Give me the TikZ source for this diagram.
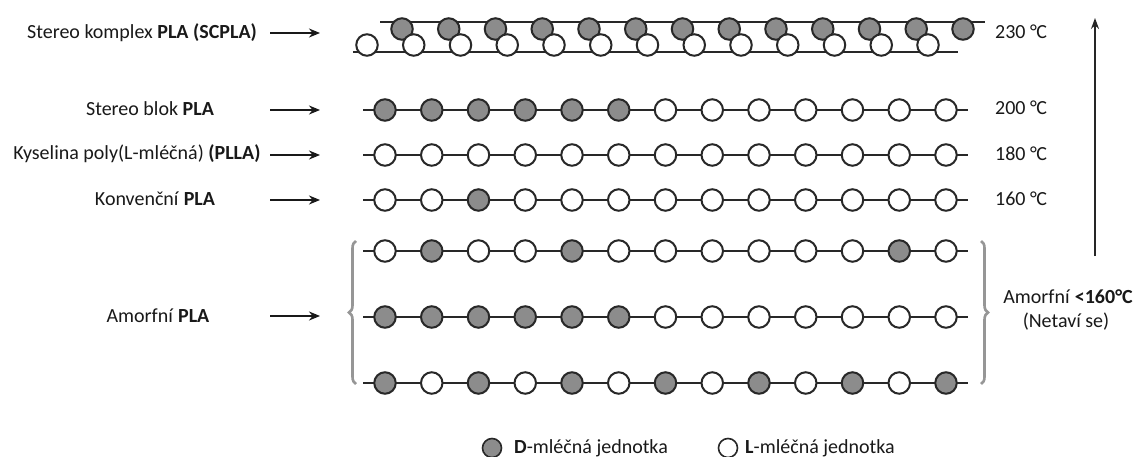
\documentclass[tikz,border=0pt]{standalone}
\usepackage{fontspec}
\setmainfont{Carlito}
\usetikzlibrary{decorations.pathreplacing,arrows.meta}
\definecolor{dgrey}{RGB}{140,140,140}
\definecolor{outl}{RGB}{40,40,40}
\definecolor{brgrey}{RGB}{150,150,150}
\definecolor{txt}{RGB}{25,25,25}
\tikzset{
  unitD/.style={circle, draw=outl, line width=2pt, fill=dgrey, minimum size=21.5pt, inner sep=0pt},
  unitL/.style={circle, draw=outl, line width=2pt, fill=white, minimum size=21.5pt, inner sep=0pt},
  chainline/.style={draw=outl, line width=2.8pt},
  lbl/.style={font=\fontsize{20}{23}\selectfont, text=txt, inner sep=0pt},
  pointer/.style={-{Stealth[length=11pt,width=9pt]}, line width=2pt, draw=black!90},
  uparrow/.style={-{Stealth[length=11pt,width=8pt]}, line width=1.6pt, draw=black!85},
  bracestyle/.style={decorate, decoration={brace, amplitude=7pt}, draw=brgrey, line width=2.6pt},
}
\newcommand{\chainrow}[3]{%
  \coordinate (#1s) at (363,#2);
  \coordinate (#1e) at (968,#2);
  \draw[chainline] (#1s) -- (#1e);
  \foreach \t [count=\i from 0] in {#3} {
    \node[unit\t] (#1u\i) at ({385+46.75*\i},#2) {};
  }
}
\begin{document}
\begin{tikzpicture}[x=1pt,y=-1pt]
\useasboundingbox[fill=white] (0,0) rectangle (1134,457);

% --- stereo complex
\coordinate (sct1) at (380,22); \coordinate (sct2) at (985,22);
\coordinate (scb1) at (353,52); \coordinate (scb2) at (958,52);
\draw[chainline] (sct1) -- (sct2);
\draw[chainline] (scb1) -- (scb2);
\foreach \i in {0,...,12} {
  \node[unitD] (scd\i) at ({402+46.75*\i},29) {};
}
\foreach \i in {0,...,12} {
  \node[unitL] (scl\i) at ({367+46.75*\i},45) {};
}

% --- rows
\chainrow{sb}{110}{D,D,D,D,D,D,L,L,L,L,L,L,L}
\chainrow{pl}{155}{L,L,L,L,L,L,L,L,L,L,L,L,L}
\chainrow{kv}{200}{L,L,D,L,L,L,L,L,L,L,L,L,L}
\chainrow{aa}{251}{L,D,L,L,D,L,L,L,L,L,L,D,L}
\chainrow{ab}{317}{D,D,D,D,D,D,L,L,L,L,L,L,L}
\chainrow{ac}{383}{D,L,D,L,D,L,D,L,D,L,D,L,D}

% --- left labels
\node[lbl] (l1) at (142,33) {Stereo komplex \textbf{PLA (SCPLA)}};
\node[lbl] (l2) at (150,109) {Stereo blok \textbf{PLA}};
\node[lbl] (l3) at (137,154) {Kyselina poly(L-mléčná) \textbf{(PLLA)}};
\node[lbl] (l4) at (155,199) {Konvenční \textbf{PLA}};
\node[lbl] (l5) at (158,316) {Amorfní \textbf{PLA}};

\foreach \n/\y in {1/33,2/110,3/155,4/200,5/316} {
  \coordinate (a\n s) at (270,\y);
  \coordinate (a\n e) at (320,\y);
  \draw[pointer] (a\n s) -- (a\n e);
}

% --- temperatures
\node[lbl, anchor=west] (t1) at (995,32) {230 °\kern-0.5pt C};
\node[lbl, anchor=west] (t2) at (995,108) {200 °\kern-0.5pt C};
\node[lbl, anchor=west] (t3) at (995,154) {180 °\kern-0.5pt C};
\node[lbl, anchor=west] (t4) at (995,199) {160 °\kern-0.5pt C};

\coordinate (vb) at (1095,256);
\coordinate (vt) at (1095,18);
\draw[uparrow] (vb) -- (vt);

% --- braces
\coordinate (lb1) at (356,384); \coordinate (lb2) at (356,241);
\draw[bracestyle] (lb1) -- (lb2);
\coordinate (rb1) at (981,241); \coordinate (rb2) at (981,384);
\draw[bracestyle] (rb1) -- (rb2);

\node[lbl] (am1) at (1068,297) {Amorfní \textbf{<160°C}};
\node[lbl] (am2) at (1066,322) {(Netaví se)};

% --- legend
\node[unitD, minimum size=19pt, line width=1.6pt] (legD) at (492,448) {};
\node[lbl, anchor=west] (legDt) at (514,448) {\textbf{D}-mléčná jednotka};
\node[unitL, minimum size=19pt, line width=1.6pt] (legL) at (728,448) {};
\node[lbl, anchor=west] (legLt) at (745,448) {\textbf{L}-mléčná jednotka};
\end{tikzpicture}
\end{document}
